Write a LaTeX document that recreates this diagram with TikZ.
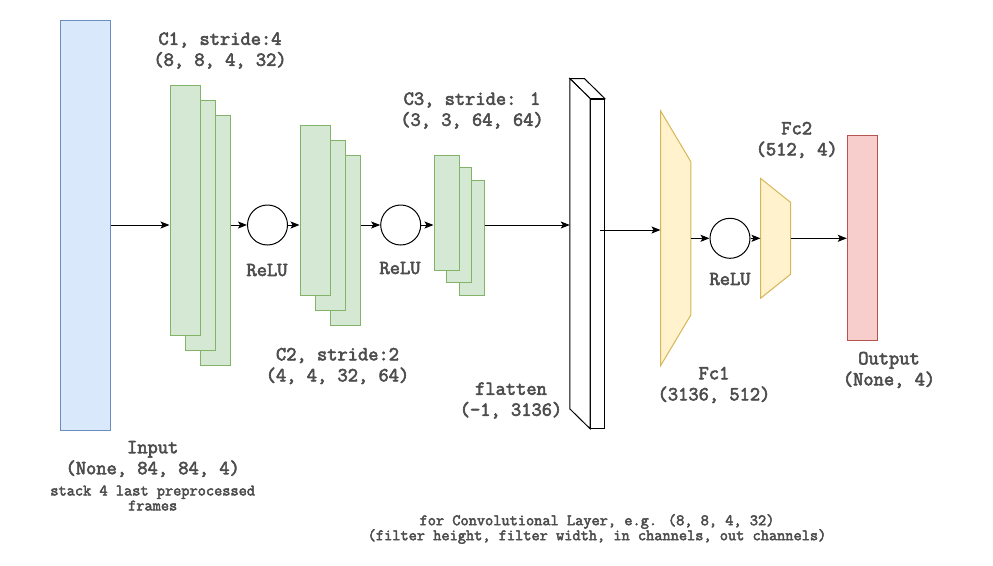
\documentclass[tikz,border=0pt]{standalone}
\usepackage{xcolor}
\usepackage{fontspec}
\newfontfamily\police{Latin Modern Mono}[FakeBold=3]
\usetikzlibrary{calc,arrows.meta}

\definecolor{bleuFond}{HTML}{DAE8FC}
\definecolor{bleuTrait}{HTML}{6C8EBF}
\definecolor{vertFond}{HTML}{D5E8D4}
\definecolor{vertTrait}{HTML}{82B366}
\definecolor{jauneFond}{HTML}{FFF2CC}
\definecolor{jauneTrait}{HTML}{D6B656}
\definecolor{rougeFond}{HTML}{F8CECC}
\definecolor{rougeTrait}{HTML}{B85450}
\definecolor{gris}{HTML}{4D4D4D}

\begin{document}
\begin{tikzpicture}[x=1pt,y=-1pt]
% Styles
\tikzstyle{lien}=[-{Stealth[length=9pt,width=7pt,inset=2pt]},line width=1pt]
\tikzstyle{entree}=[fill=bleuFond,draw=bleuTrait,line width=1pt,inner sep=0,minimum width=50pt,minimum height=410pt]
\tikzstyle{conv}=[fill=vertFond,draw=vertTrait,line width=1pt,inner sep=0]
\tikzstyle{dense}=[inner sep=0,rectangle]
\tikzstyle{trapeze}=[fill=jauneFond,draw=jauneTrait,line width=1pt]
\tikzstyle{sortie}=[fill=rougeFond,draw=rougeTrait,line width=1pt,inner sep=0,minimum width=30pt,minimum height=205pt]
\tikzstyle{activation}=[circle,draw,fill=white,line width=1pt,inner sep=0,minimum size=40pt]
\tikzstyle{cube}=[fill=white,draw,line width=1pt]
\tikzstyle{etiquette}=[text=gris,align=center,inner sep=0,font=\police\fontsize{19.9}{21}\selectfont]
\tikzstyle{note}=[text=gris,align=center,inner sep=0,font=\police\fontsize{15.9}{15}\selectfont]
% Dimensions
\def\Pente{51}
\def\PenteB{24}
\useasboundingbox (0,0) rectangle (993,565);
% Noeuds
\node[entree] (In) at (85,225) {};
\node[conv,minimum width=30pt,minimum height=250pt] (C1c) at (215,240) {};
\node[conv,minimum width=30pt,minimum height=250pt] (C1b) at (200,225) {};
\node[conv,minimum width=30pt,minimum height=250pt] (C1a) at (185,210) {};
\node[activation] (Relu1) at (267.5,225) {};
\node[conv,minimum width=30pt,minimum height=170pt] (C2c) at (345,240) {};
\node[conv,minimum width=30pt,minimum height=170pt] (C2b) at (330,225) {};
\node[conv,minimum width=30pt,minimum height=170pt] (C2a) at (315,210) {};
\node[activation] (Relu2) at (400.7,225) {};
\node[conv,minimum width=25pt,minimum height=115pt] (C3c) at (471.5,237.5) {};
\node[conv,minimum width=25pt,minimum height=115pt] (C3b) at (459,225) {};
\node[conv,minimum width=25pt,minimum height=115pt] (C3a) at (446.5,212.5) {};
% aplatissement
\node[cube,minimum width=13.6pt,minimum height=329.3pt,inner sep=0] (Flat) at (597.5,263.7) {};
\coordinate (FlatDos) at ($(Flat.north west)+(-20.4,-20)$);
\draw[cube] (Flat.north west) -- (FlatDos) -- ($(Flat.north east)+(-20.4,-20)$) -- (Flat.north east) -- cycle;
\draw[cube] (Flat.north west) -- (FlatDos) -- ($(Flat.south west)+(-20.4,-20)$) -- (Flat.south west) -- cycle;
\coordinate (FlatSortie) at (600,230);
% couches denses
\node[dense,minimum width=30pt,minimum height=254.7pt] (Fc1) at (675.7,238.3) {};
\draw[trapeze] (Fc1.north west) -- ($(Fc1.north east)+(0,\Pente)$) -- ($(Fc1.south east)+(0,-\Pente)$) -- (Fc1.south west) -- cycle;
\node[activation] (Relu3) at (730,238.3) {};
\node[dense,minimum width=29.6pt,minimum height=119.6pt] (Fc2) at (775.5,238.3) {};
\draw[trapeze] (Fc2.north west) -- ($(Fc2.north east)+(0,\PenteB)$) -- ($(Fc2.south east)+(0,-\PenteB)$) -- (Fc2.south west) -- cycle;
\node[sortie] (Out) at (862.3,238.2) {};
% Etiquettes
\node[etiquette] (LblC1) at (220,50.5) {C1, stride:4\\(8, 8, 4, 32)};
\node[etiquette] (LblC2) at (337.5,366) {C2, stride:2\\(4, 4, 32, 64)};
\node[etiquette] (LblC3) at (472,110.5) {C3, stride: 1\\(3, 3, 64, 64)};
\node[etiquette] (LblR1) at (267,270) {ReLU};
\node[etiquette] (LblR2) at (400,268) {ReLU};
\node[etiquette] (LblR3) at (730,279) {ReLU};
\node[etiquette] (LblFlat) at (511,400.5) {flatten\\(-1, 3136)};
\node[etiquette] (LblFc1) at (714,385) {Fc1\\(3136, 512)};
\node[etiquette] (LblFc2) at (796.7,140) {Fc2\\(512, 4)};
\node[etiquette] (LblOut) at (889,370) {Output\\(None, 4)};
\node[etiquette] (LblIn) at (152.7,459) {Input\\(None, 84, 84, 4)};
\node[note] (NoteIn) at (152.7,498) {stack 4 last preprocessed\\frames};
\node[note] (Legende) at (597,529) {for Convolutional Layer, e.g. (8, 8, 4, 32)\\(filter height, filter width, in channels, out channels)};
% Arcs
\draw[lien] (In.east) -- (In.east -| C1a.west);
\draw[lien] (C1c.east |- Relu1.west) -- (Relu1.west);
\draw[lien] (Relu1.east) -- (Relu1.east -| C2a.west);
\draw[lien] (C2c.east |- Relu2.west) -- (Relu2.west);
\draw[lien] (Relu2.east) -- (Relu2.east -| C3a.west);
\draw[lien] (C3c.east |- C3b.east) -- (FlatDos |- C3b.east);
\draw[lien] (FlatSortie) -- (FlatSortie -| Fc1.west);
\draw[lien] (Fc1.east |- Relu3.west) -- (Relu3.west);
\draw[lien] (Relu3.east) -- (Relu3.east -| Fc2.west);
\draw[lien] (Fc2.east) -- (Fc2.east -| Out.west);
\end{tikzpicture}
\end{document}
